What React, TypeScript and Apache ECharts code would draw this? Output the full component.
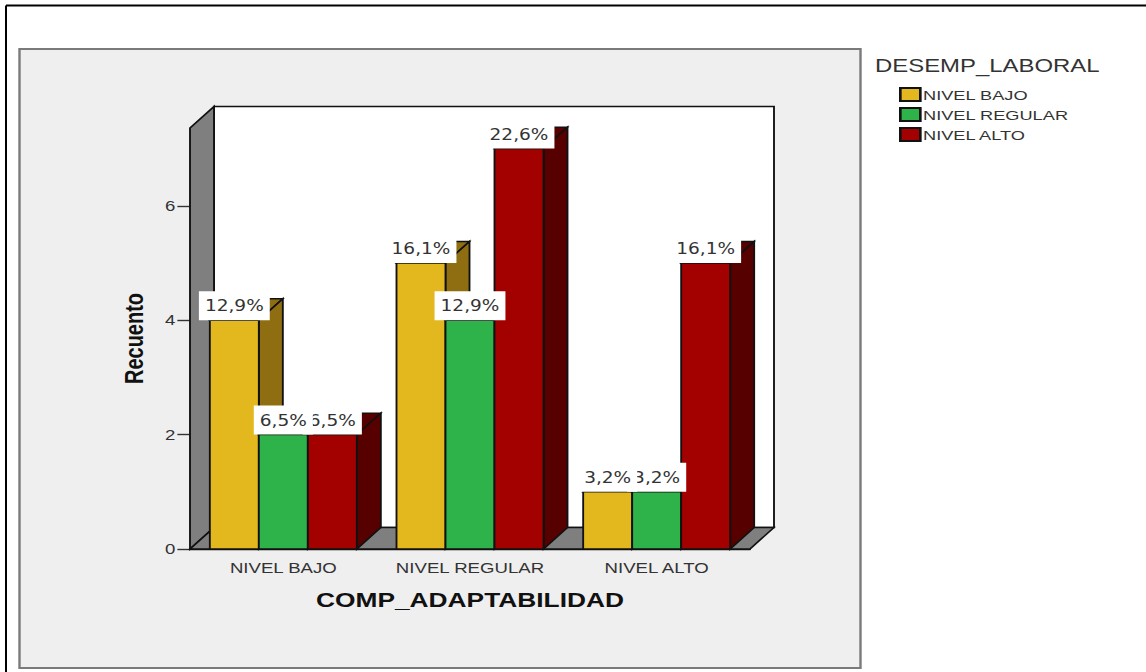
import React, { useEffect, useRef } from "react";
import * as echarts from "echarts";

const categories = ["NIVEL BAJO", "NIVEL REGULAR", "NIVEL ALTO"];
const seriesNames = ["NIVEL BAJO", "NIVEL REGULAR", "NIVEL ALTO"];
const bajoValues = [4, 5, 1];
const regularValues = [2, 4, 1];
const altoValues = [2, 7, 5];
const bajoLabels = ["12,9%", "16,1%", "3,2%"];
const regularLabels = ["6,5%", "12,9%", "3,2%"];
const altoLabels = ["6,5%", "22,6%", "16,1%"];
const yTicks = [0, 2, 4, 6];

const frontColors = ["#e3b81f", "#2db34a", "#a30000"];
const sideColors = ["#8f6e12", "#1c6e2e", "#570000"];

// The drawing is laid out on a narrower canvas and widened as a whole,
// so every glyph and stroke carries the same horizontal stretch.
const STRETCH = 1.33;
const W = 1146 / STRETCH;
const H = 672;
const sx = (x: number) => x / STRETCH;

const DEPTH_X = sx(24);
const DEPTH_Y = 21.5;
const BAR_W = sx(49);
const LINE = "#111";
const EDGE = 1.4;

const face = (points: number[][], fill: string) => ({
  type: "polygon",
  shape: { points },
  style: { fill, stroke: LINE, lineWidth: EDGE },
});

const renderWalls = (params: any) => {
  const { x, y, width, height } = params.coordSys;
  const b = y + height;
  const r = x + width;
  return {
    type: "group",
    children: [
      face([[x + DEPTH_X, y - DEPTH_Y], [r + DEPTH_X, y - DEPTH_Y], [r + DEPTH_X, b - DEPTH_Y], [x + DEPTH_X, b - DEPTH_Y]], "#ffffff"),
      face([[x, y], [x + DEPTH_X, y - DEPTH_Y], [x + DEPTH_X, b - DEPTH_Y], [x, b]], "#7f7f7f"),
      face([[x, b], [x + DEPTH_X, b - DEPTH_Y], [r + DEPTH_X, b - DEPTH_Y], [r, b]], "#7f7f7f"),
    ],
  };
};

const barLeft = (api: any, cat: number, index: number) =>
  api.coord([cat, 0])[0] + (index - 1.5) * BAR_W;

const renderBar = (index: number) => (_: any, api: any) => {
  const cat = api.value(0);
  const value = api.value(1);
  const x = barLeft(api, cat, index);
  const top = api.coord([cat, value])[1];
  const base = api.coord([cat, 0])[1];
  const r = x + BAR_W;
  return {
    type: "group",
    children: [
      face([[x, top], [r, top], [r + DEPTH_X, top - DEPTH_Y], [x + DEPTH_X, top - DEPTH_Y]], sideColors[index]),
      face([[r, top], [r + DEPTH_X, top - DEPTH_Y], [r + DEPTH_X, base - DEPTH_Y], [r, base]], sideColors[index]),
      face([[x, top], [r, top], [r, base], [x, base]], frontColors[index]),
    ],
  };
};

const seriesValues = [bajoValues, regularValues, altoValues];
const seriesLabels = [bajoLabels, regularLabels, altoLabels];

// Later entries paint over earlier ones, so the first series' tags end up on top.
const labelRows: number[][] = [];
[2, 1, 0].forEach((s) =>
  categories.forEach((_, c) => labelRows.push([c, seriesValues[s][c], s]))
);

const renderLabel = (_: any, api: any) => {
  const cat = api.value(0);
  const s = api.value(2);
  const text = seriesLabels[s][cat];
  const x = barLeft(api, cat, s) + BAR_W / 2;
  const y = api.coord([cat, api.value(1)])[1];
  return {
    type: "text",
    style: {
      text,
      x,
      y,
      align: "center",
      verticalAlign: "bottom",
      fill: "#333333",
      font: '15.5px "DejaVu Sans Condensed", "DejaVu Sans"',
      backgroundColor: "#ffffff",
      padding: [6.5, 4.5, 6.5, 4.5],
    },
  };
};

export default function App() {
  const ref = useRef<HTMLDivElement>(null);

  useEffect(() => {
    const chart = echarts.init(ref.current!, null, { renderer: "svg" });
    chart.setOption({
      animation: false,
      backgroundColor: "#ffffff",
      title: {
        text: "DESEMP_LABORAL",
        left: sx(875),
        top: 57,
        padding: 0,
        textStyle: { fontFamily: "Liberation Sans", fontSize: 18, fontWeight: "normal", color: "#333333" },
      },
      legend: {
        data: seriesNames,
        orient: "vertical",
        left: sx(899),
        top: 87,
        padding: 0,
        itemWidth: sx(20),
        itemHeight: 13,
        itemGap: 5,
        icon: "rect",
        selectedMode: false,
        textStyle: { fontFamily: "Liberation Sans", fontSize: 13.7, lineHeight: 13, color: "#333333", padding: [0, 0, 0, -3] },
      },
      tooltip: { show: false },
      graphic: [
        { type: "line", shape: { x1: sx(6), y1: 5.5, x2: W, y2: 5.5 }, style: { stroke: "#000", lineWidth: 2 } },
        { type: "line", shape: { x1: sx(6), y1: 5.5, x2: sx(6), y2: H }, style: { stroke: "#000", lineWidth: 1.5 } },
        {
          type: "rect",
          z: -1,
          shape: { x: sx(19.5), y: 49, width: sx(841), height: 619 },
          style: { fill: "#efefef", stroke: "#7a7a7a", lineWidth: 1.8 },
        },
      ],
      grid: { left: sx(190), top: 128, width: sx(560), height: 421 },
      xAxis: {
        type: "category",
        data: categories,
        name: "COMP_ADAPTABILIDAD",
        nameLocation: "center",
        nameGap: 41,
        nameTextStyle: { fontFamily: "Liberation Sans", fontSize: 19.8, fontWeight: "bold", color: "#111111" },
        axisLine: { lineStyle: { color: LINE, width: EDGE } },
        axisTick: { alignWithLabel: true, length: 8, lineStyle: { color: "#333", width: 1.4 } },
        axisLabel: { interval: 0, fontFamily: "Liberation Sans", fontSize: 14, color: "#333333", margin: 12 },
      },
      yAxis: {
        type: "value",
        min: 0,
        max: 7.36,
        name: "Recuento",
        nameLocation: "center",
        nameGap: 32,
        nameTextStyle: { fontFamily: "Liberation Sans", fontSize: 20, fontWeight: "bold", color: "#111111" },
        splitLine: { show: false },
        axisLine: { show: true, lineStyle: { color: LINE, width: EDGE } },
        axisTick: { show: true, length: 9.5, customValues: yTicks, lineStyle: { color: "#333", width: 1.4 } },
        axisLabel: { customValues: yTicks, fontFamily: "Liberation Sans", fontSize: 14, color: "#333333", margin: 11 },
      },
      series: [
        { type: "custom", silent: true, z: 1, clip: false, data: [[0, 0]], renderItem: renderWalls },
        ...seriesNames.map((name, i) => ({
          name,
          type: "custom",
          silent: true,
          z: 2 + i,
          clip: false,
          itemStyle: { color: frontColors[i], borderColor: LINE, borderWidth: 1 },
          data: seriesValues[i].map((v, c) => [c, v]),
          renderItem: renderBar(i),
        })),
        { type: "custom", silent: true, z: 6, clip: false, data: labelRows, renderItem: renderLabel },
      ],
    });
    return () => chart.dispose();
  }, []);

  return (
    <div
      ref={ref}
      style={{
        position: "absolute",
        left: 0,
        top: 0,
        width: W,
        height: H,
        transform: `scaleX(${STRETCH})`,
        transformOrigin: "left top",
      }}
    />
  );
}
